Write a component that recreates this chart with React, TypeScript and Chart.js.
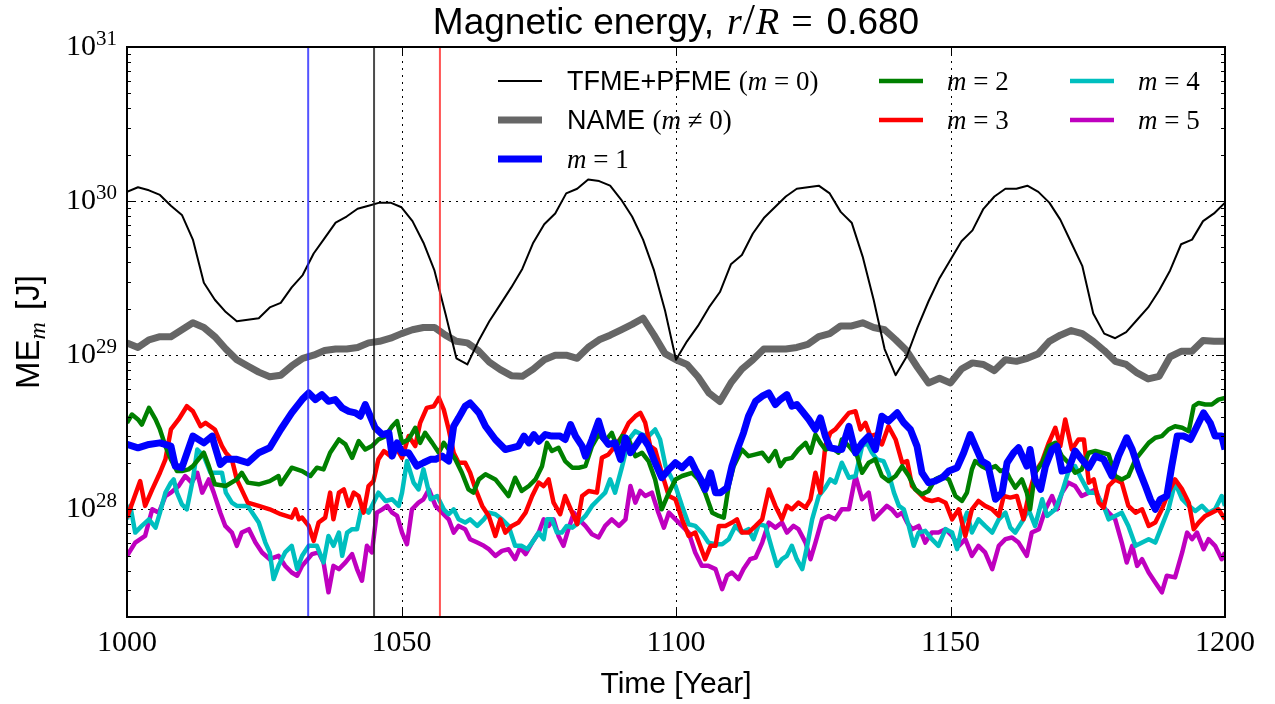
import React, { useEffect, useRef } from "react";
import { Chart, registerables } from "chart.js";

Chart.register(...registerables);

// ---------------- data (log10 of energy in J) ----------------
const years = [
  1000, 1002, 1004, 1006, 1008, 1010, 1012, 1014, 1016, 1018,
  1020, 1022, 1024, 1026, 1028, 1030, 1032, 1034, 1036, 1038,
  1040, 1042, 1044, 1046, 1048, 1050, 1052, 1054, 1056, 1058,
  1060, 1062, 1064, 1066, 1068, 1070, 1072, 1074, 1076, 1078,
  1080, 1082, 1084, 1086, 1088, 1090, 1092, 1094, 1096, 1098,
  1100, 1102, 1104, 1106, 1108, 1110, 1112, 1114, 1116, 1118,
  1120, 1122, 1124, 1126, 1128, 1130, 1132, 1134, 1136, 1138,
  1140, 1142, 1144, 1146, 1148, 1150, 1152, 1154, 1156, 1158,
  1160, 1162, 1164, 1166, 1168, 1170, 1172, 1174, 1176, 1178,
  1180, 1182, 1184, 1186, 1188, 1190, 1192, 1194, 1196, 1198,
  1200,
];

const tfmeLog = [
  30.06, 30.09, 30.07, 30.04, 29.97, 29.91, 29.75, 29.47, 29.36, 29.28,
  29.22, 29.23, 29.24, 29.31, 29.34, 29.44, 29.52, 29.66, 29.76, 29.86,
  29.9, 29.95, 29.97, 29.99, 29.99, 29.96, 29.87, 29.73, 29.55, 29.27,
  28.98, 28.94, 29.09, 29.22, 29.33, 29.44, 29.56, 29.73, 29.85, 29.92,
  30.05, 30.08, 30.14, 30.13, 30.1, 30.01, 29.9, 29.75, 29.55, 29.29,
  28.97, 29.09, 29.19, 29.31, 29.41, 29.59, 29.65, 29.79, 29.89, 29.96,
  30.03, 30.08, 30.09, 30.1, 30.05, 29.93, 29.86, 29.64, 29.36, 29.04,
  28.87, 28.99, 29.18, 29.35, 29.5, 29.62, 29.74, 29.81, 29.95, 30.03,
  30.08, 30.08, 30.1, 30.06, 29.99, 29.88, 29.73, 29.58, 29.27, 29.14,
  29.11, 29.15, 29.23, 29.31, 29.42, 29.55, 29.72, 29.75, 29.87, 29.92,
  29.99,
];

const nameLog = [
  29.08, 29.05, 29.1, 29.12, 29.12, 29.165, 29.21, 29.18, 29.12, 29.04,
  28.97, 28.93, 28.89, 28.86, 28.87, 28.93, 28.98, 29.0, 29.03, 29.04,
  29.04, 29.05, 29.08, 29.09, 29.11, 29.14, 29.165, 29.18, 29.18, 29.13,
  29.09, 29.08, 29.03, 28.955, 28.906, 28.867, 28.863, 28.91, 28.97, 29.0,
  29.0, 28.98, 29.05, 29.1, 29.13, 29.165, 29.2, 29.24, 29.13, 29.01,
  28.97, 28.94, 28.86, 28.755, 28.7, 28.82, 28.91, 28.97, 29.04, 29.04,
  29.04, 29.05, 29.07, 29.12, 29.14, 29.19, 29.19, 29.21, 29.18, 29.165,
  29.1, 29.03, 28.92, 28.82, 28.85, 28.82, 28.91, 28.95, 28.94, 28.9,
  28.97, 28.96, 28.98, 29.01, 29.09, 29.13, 29.16, 29.14, 29.09, 29.03,
  28.96, 28.94, 28.885, 28.846, 28.863, 28.99, 29.025, 29.025, 29.096, 29.09,
  29.09,
];

const m1Years = [
  1000, 1002, 1004, 1006, 1008, 1008.8, 1010, 1012, 1014, 1015.5, 1016, 1017, 1018, 1020, 1022, 1024, 1026, 1028, 1030,
  1031.9, 1033.1, 1034.3, 1035.5, 1036.7, 1037.9, 1039.2, 1040.4, 1041.6, 1042.5, 1043.4, 1044.3, 1045.2, 1046.5, 1047.7,
  1048.3, 1049.2, 1050.1, 1051.3, 1052.8, 1054, 1055.3, 1056.2, 1057.4, 1058.6, 1059.5, 1060.4, 1061.6, 1062.5, 1064.1, 1065.3,
  1067.1, 1068.9, 1070.1, 1071.3, 1072.3, 1073.2, 1074.1, 1075, 1076.2, 1077.4, 1078.9, 1079.8, 1080.8, 1081.7, 1082.9,
  1083.5, 1084.7, 1085.9, 1086.8, 1087.7, 1088.9, 1089.9, 1090.8, 1091.7, 1092.6, 1093.8, 1095, 1096.2, 1097.4,
  1098.7, 1099.9, 1101.1, 1102.6, 1103.5, 1104.7, 1105.3, 1106.3, 1107.2, 1108.1, 1109.3, 1110.2, 1111.4, 1112.3, 1113.2,
  1114.5, 1115.7, 1116.9, 1118.1, 1119, 1120.2, 1121.1, 1122, 1123, 1124.2, 1125.4, 1126.3, 1127.2, 1128.1, 1129.6,
  1130.2, 1131.5, 1132.7, 1133.9, 1135.1, 1136.3, 1137.5, 1138.7, 1140.3, 1141.5, 1142.7, 1143.9, 1144.8, 1146, 1147.2,
  1148.5, 1149.7, 1151.2, 1152.4, 1153.6, 1154.5, 1155.7, 1156.8, 1158.2, 1159.4, 1160.3, 1161.5, 1162.4,
  1163.9, 1164.5, 1165.4, 1166.4, 1167.3, 1168.5, 1169.4, 1170.3, 1171.5, 1172.7, 1173.9, 1175.2, 1176.4, 1177.9, 1179.4,
  1180.6, 1182.1, 1183.1, 1184.3, 1185.5, 1186.4, 1187.3, 1188.2, 1189.4, 1190.3, 1191.3, 1192.5, 1193.7, 1194.9, 1196.1,
  1197.3, 1198.2, 1199.4, 1200,
];
const m1Log = [
  28.421, 28.399, 28.421, 28.431, 28.41, 28.28, 28.27, 28.475, 28.431, 28.475, 28.41, 28.291, 28.324, 28.324, 28.302, 28.367, 28.399, 28.518, 28.626,
  28.712, 28.755, 28.712, 28.744, 28.701, 28.712, 28.658, 28.636, 28.626, 28.604, 28.68, 28.604, 28.529, 28.485, 28.496,
  28.345, 28.431, 28.367, 28.367, 28.28, 28.302, 28.324, 28.324, 28.345, 28.313, 28.539, 28.593, 28.669, 28.69, 28.626, 28.539,
  28.453, 28.388, 28.399, 28.41, 28.475, 28.431, 28.485, 28.442, 28.485, 28.475, 28.475, 28.453, 28.55, 28.475, 28.41,
  28.345, 28.453, 28.572, 28.464, 28.421, 28.431, 28.324, 28.464, 28.367, 28.41, 28.475, 28.41, 28.302, 28.205,
  28.259, 28.302, 28.27, 28.324, 28.259, 28.183, 28.129, 28.237, 28.108, 28.108, 28.14, 28.28, 28.41, 28.496, 28.604,
  28.701, 28.734, 28.755, 28.68, 28.712, 28.744, 28.669, 28.68, 28.636, 28.583, 28.518, 28.593, 28.475, 28.399, 28.388,
  28.388, 28.539, 28.367, 28.431, 28.475, 28.388, 28.604, 28.572, 28.626, 28.561, 28.518, 28.41, 28.237, 28.173, 28.183,
  28.205, 28.248, 28.27, 28.367, 28.485, 28.41, 28.313, 28.291, 28.065, 28.108, 28.302, 28.367, 28.399,
  28.28, 28.388, 28.194, 28.129, 28.28, 28.388, 28.41, 28.248, 28.259, 28.378, 28.324, 28.27, 28.345, 28.324, 28.216,
  28.345, 28.464, 28.388, 28.259, 28.151, 28.065, 28.0, 28.065, 28.086, 28.28, 28.475, 28.475, 28.453, 28.539, 28.626,
  28.561, 28.475, 28.475, 28.388,
];

const m2Years = [
  1000, 1000.9, 1002, 1002.7, 1004, 1005.2, 1006, 1007, 1008, 1009.1, 1010, 1011.2, 1012, 1014, 1014.9, 1016, 1018, 1020,
  1020.9, 1022, 1024, 1026, 1027.6, 1028, 1030, 1031.9, 1033.4, 1034.6, 1035.8, 1037, 1038.6, 1039.8, 1041, 1042.2, 1043.4,
  1044.6, 1045.8, 1047.1, 1048.3, 1049.2, 1050.1, 1051.3, 1052.5, 1053.4, 1054.3, 1055.6, 1056.8, 1057.7, 1058.6, 1059.8,
  1061, 1062.2, 1063.1, 1064.1, 1065.3, 1067.1, 1068.3, 1069.5, 1070.7, 1071.9, 1073.2, 1074.4, 1075.6, 1076.5, 1077.4,
  1078.6, 1079.8, 1081.1, 1082.3, 1083.5, 1084.7, 1085.9, 1087.1, 1088.3, 1089.2, 1090.2, 1091.4, 1092.6, 1093.8, 1095,
  1096.2, 1097.4, 1098.7, 1099.9, 1101.1, 1102.9, 1104.1, 1105.3, 1106.6, 1107.8, 1108.7, 1109.6, 1110.5, 1112, 1113.2,
  1114.5, 1115.7, 1116.9, 1118.1, 1119, 1119.9, 1121.1, 1122.3, 1123.6, 1124.5, 1125.4, 1126.3, 1127.2, 1128.4, 1129.6,
  1130.2, 1131.5, 1133, 1133.9, 1135.1, 1136.3, 1137.5, 1138.7, 1140, 1141.2, 1142.4, 1143.6, 1144.8, 1146, 1147.2,
  1148.5, 1149.7, 1150.9, 1152.1, 1153, 1153.9, 1154.5, 1155.7, 1156.8, 1158.2, 1159.1, 1160, 1160.9, 1161.8, 1163,
  1163.9, 1164.5, 1165.4, 1166.7, 1167.9, 1169.1, 1170.3, 1171.5, 1172.7, 1173.9, 1175.2, 1176.4, 1177.6, 1178.8, 1180,
  1181.2, 1182.4, 1183.7, 1184.9, 1186.1, 1187.3, 1188.5, 1189.7, 1190.9, 1192.2, 1193.4, 1194.3, 1195.2, 1196.4, 1197.6,
  1198.8, 1200,
];
const m2Log = [
  28.561, 28.615, 28.583, 28.55, 28.658, 28.583, 28.518, 28.41, 28.324, 28.248, 28.248, 28.259, 28.28, 28.367, 28.28, 28.162, 28.151, 28.194,
  28.237, 28.173, 28.162, 28.183, 28.216, 28.162, 28.27, 28.248, 28.216, 28.27, 28.259, 28.367, 28.453, 28.421, 28.334, 28.442, 28.388,
  28.41, 28.453, 28.475, 28.539, 28.572, 28.431, 28.453, 28.529, 28.431, 28.496, 28.431, 28.367, 28.431, 28.388, 28.324,
  28.237, 28.129, 28.108, 28.194, 28.227, 28.194, 28.14, 28.086, 28.205, 28.119, 28.151, 28.194, 28.28, 28.431, 28.378,
  28.399, 28.313, 28.27, 28.27, 28.28, 28.41, 28.485, 28.442, 28.496, 28.41, 28.475, 28.453, 28.345, 28.367, 28.313,
  28.194, 28.0, 28.108, 28.194, 28.216, 28.237, 28.194, 28.108, 27.978, 27.957, 27.946, 28.151, 28.28, 28.388, 28.345,
  28.356, 28.367, 28.313, 28.378, 28.28, 28.324, 28.334, 28.388, 28.431, 28.367, 28.485, 28.431, 28.388, 28.399, 28.367,
  28.453, 28.41, 28.345, 28.237, 28.302, 28.324, 28.216, 28.183, 28.216, 28.28, 28.216, 28.129, 28.097, 28.119, 28.194,
  28.216, 28.194, 28.086, 28.054, 28.108, 28.259, 28.313, 28.28, 28.259, 28.28, 28.248, 28.259, 28.194, 28.14, 28.194,
  28.108, 28.0, 28.237, 28.302, 28.41, 28.431, 28.345, 28.302, 28.237, 28.259, 28.367, 28.378, 28.367, 28.356, 28.216,
  28.194, 28.216, 28.324, 28.378, 28.431, 28.464, 28.475, 28.518, 28.539, 28.529, 28.507, 28.669, 28.69, 28.68, 28.68,
  28.712, 28.723,
];

const m3Years = [
  1000, 1001.2, 1002.4, 1003.3, 1004.6, 1006, 1007, 1008, 1009.4, 1010.9, 1012, 1013.4, 1014.3, 1016, 1017.3, 1018, 1019.1,
  1020, 1022, 1024, 1026, 1028, 1030, 1030.7, 1031.3, 1031.9, 1033.1, 1034, 1034.9, 1036.1, 1037, 1037.6, 1038.6, 1039.5,
  1040.4, 1041.3, 1042.2, 1043.1, 1044, 1044.9, 1045.8, 1046.8, 1048, 1048.9, 1050.1, 1051.3, 1052.5, 1053.4, 1054.6,
  1055.9, 1056.8, 1057.7, 1058.6, 1059.5, 1060.4, 1061.6, 1062.5, 1063.5, 1064.7, 1065.9, 1067.1, 1068, 1068.9, 1070.1,
  1071.3, 1072.6, 1073.8, 1075, 1075.9, 1076.8, 1077.7, 1078.9, 1079.8, 1081.1, 1082, 1082.9, 1084.1, 1085.6, 1086.5,
  1087.7, 1088.9, 1090.2, 1091.4, 1092.6, 1093.5, 1094.4, 1095.3, 1096.2, 1097.4, 1098.7, 1099.9, 1101.1, 1102.3, 1103.5,
  1104.4, 1105.3, 1106.3, 1107.2, 1107.8, 1109, 1110.2, 1111.1, 1112, 1113.2, 1114.5, 1115.7, 1116.9, 1118.1, 1119.3,
  1120.2, 1121.1, 1122.3, 1123.6, 1124.5, 1125.4, 1126.3, 1127.2, 1128.1, 1129, 1130.5, 1131.5, 1132.7, 1133.6, 1134.5,
  1135.4, 1136.3, 1137.5, 1138.7, 1140, 1141.2, 1142.1, 1143, 1144.2, 1145.4, 1146.6, 1147.8, 1149.1, 1150.3, 1151.5,
  1152.7, 1153.9, 1155.1, 1156.3, 1157.6, 1158.8, 1159.7, 1160.9, 1162.1, 1163.3, 1164.2, 1165.4, 1166.7, 1167.9, 1169.1,
  1170, 1170.9, 1172.1, 1173.3, 1174.3, 1175.2, 1176.1, 1177, 1177.9, 1178.8, 1180, 1181.2, 1182.4, 1183.7, 1184.9,
  1186.1, 1187.3, 1188.5, 1189.7, 1190.9, 1192.2, 1193.4, 1194.3, 1195.2, 1196.4, 1197.6, 1198.8, 1200,
];
const m3Log = [
  27.946, 28.065, 28.183, 28.022, 28.129, 28.237, 28.324, 28.518, 28.583, 28.669, 28.636, 28.539, 28.561, 28.518, 28.41, 28.367, 28.324,
  28.194, 28.043, 28.022, 28.0, 27.968, 27.946, 28.0, 27.935, 27.946, 27.892, 27.795, 27.914, 27.946, 28.108, 27.935, 28.108, 28.129,
  28.022, 28.108, 28.086, 27.978, 28.151, 28.183, 28.324, 28.378, 28.345, 28.41, 28.334, 28.475, 28.41, 28.561, 28.658,
  28.669, 28.723, 28.647, 28.518, 28.367, 28.302, 28.302, 28.237, 28.129, 28.022, 27.957, 27.827, 27.935, 27.849, 27.892,
  27.914, 27.978, 28.086, 28.173, 28.151, 28.194, 28.043, 27.968, 28.086, 27.978, 27.903, 28.086, 28.119, 28.108, 28.334,
  28.356, 28.41, 28.475, 28.561, 28.604, 28.626, 28.561, 28.41, 28.388, 28.237, 28.086, 28.065, 27.935, 27.827, 27.849,
  27.763, 27.676, 27.763, 27.763, 27.892, 27.892, 27.914, 27.935, 27.849, 27.849, 27.892, 27.935, 28.129, 28.022, 27.935,
  28.022, 28.0, 28.043, 28.011, 28.065, 28.237, 28.108, 28.41, 28.496, 28.518, 28.583, 28.626, 28.636, 28.518, 28.561,
  28.475, 28.485, 28.421, 28.539, 28.453, 28.302, 28.313, 28.151, 28.108, 28.065, 28.054, 28.065, 28.043, 27.935, 28.0,
  27.827, 28.0, 28.054, 28.022, 28.0, 27.957, 28.086, 28.076, 28.086, 27.935, 28.086, 28.237, 28.313, 28.431, 28.529,
  28.41, 28.583, 28.388, 28.453, 28.453, 28.173, 28.194, 28.043, 28.011, 28.151, 28.194, 28.173, 28.022, 27.978, 28.0,
  27.892, 27.914, 28.0, 28.108, 28.194, 28.129, 28.043, 27.871, 27.914, 27.957, 27.978, 28.0, 27.935,
];

const m4Years = [
  1000, 1000.6, 1001.5, 1002.7, 1004, 1005.2, 1006, 1007, 1008, 1008.5, 1009.1, 1010, 1010.9, 1012, 1012.8, 1014, 1015.2,
  1016, 1017.3, 1018, 1019.1, 1020, 1022, 1024, 1025.2, 1026, 1026.7, 1027.6, 1028.8, 1030, 1031, 1031.9, 1033.1, 1034.6,
  1035.8, 1036.7, 1037.6, 1038.6, 1039.2, 1040.1, 1041, 1041.9, 1042.8, 1044, 1044.9, 1045.8, 1047.1, 1048.3, 1049.5,
  1050.1, 1051, 1052.2, 1053.1, 1054, 1055.3, 1056.5, 1057.7, 1058.6, 1059.5, 1060.4, 1061.6, 1062.5, 1063.8, 1065,
  1065.9, 1067.1, 1068.3, 1069.5, 1070.7, 1071.9, 1072.9, 1073.8, 1075, 1075.9, 1076.5, 1077.4, 1078.3, 1079.2, 1080.1,
  1081.1, 1082.3, 1083.5, 1084.7, 1085.9, 1087.1, 1088, 1088.9, 1090.2, 1091.4, 1092.6, 1093.8, 1095, 1096.2, 1097.1,
  1098.1, 1098.7, 1099.9, 1101.1, 1102.3, 1103.5, 1104.7, 1105.9, 1107.2, 1108.4, 1109.6, 1110.8, 1112, 1113.2, 1114.1,
  1115.1, 1116.3, 1117.5, 1118.4, 1119.3, 1120.2, 1121.1, 1122, 1123, 1123.9, 1124.8, 1126, 1127.2, 1128.1, 1129, 1130.2,
  1131.5, 1132.7, 1133.9, 1134.8, 1135.7, 1136.6, 1137.8, 1138.7, 1139.7, 1140.6, 1141.5, 1142.4, 1143.3, 1144.2, 1145.4,
  1146.6, 1147.8, 1149.1, 1150.3, 1151.2, 1152.1, 1153, 1153.9, 1155.1, 1156.3, 1157.6, 1158.8, 1160, 1160.9, 1161.8,
  1163.3, 1164.2, 1165.4, 1166.7, 1167.6, 1169.1, 1170.3, 1171.5, 1172.7, 1173.9, 1175.2, 1176.4, 1177.9, 1178.8, 1180,
  1181.2, 1182.4, 1183.7, 1184.9, 1186.1, 1187.3, 1188.5, 1189.7, 1190.9, 1192.2, 1193.4, 1194.6, 1195.8, 1197, 1198.2,
  1199.4, 1200,
];
const m4Log = [
  27.935, 28.022, 27.849, 27.892, 27.935, 27.881, 27.978, 28.108, 28.173, 28.194, 28.108, 28.032, 28.0, 28.194, 28.388, 28.345, 28.237,
  28.237, 28.237, 28.108, 28.043, 28.022, 28.022, 27.914, 27.784, 27.72, 27.547, 27.633, 27.72, 27.763, 27.612, 27.698, 27.763, 27.763,
  27.655, 27.827, 27.763, 27.849, 27.698, 27.849, 27.871, 27.871, 28.022, 27.978, 28.043, 28.108, 28.054, 28.065, 28.022,
  28.108, 28.313, 28.173, 28.129, 28.259, 28.065, 28.086, 28.0, 27.968, 28.0, 27.935, 27.914, 27.935, 27.892, 27.935,
  27.978, 27.968, 27.935, 27.892, 27.763, 27.763, 27.741, 27.784, 27.849, 27.806, 27.935, 27.935, 27.849, 27.849, 27.892,
  27.881, 27.914, 27.957, 28.022, 28.065, 28.108, 28.194, 28.108, 28.28, 28.453, 28.507, 28.485, 28.475, 28.518, 28.453,
  28.28, 28.237, 28.151, 28.022, 27.903, 27.892, 27.849, 27.784, 27.773, 27.773, 27.806, 27.892, 27.849, 27.871, 27.806,
  27.903, 27.892, 27.741, 27.633, 27.676, 27.698, 27.763, 27.676, 27.612, 27.763, 27.935, 28.086, 28.14, 28.194, 28.173, 28.302,
  28.205, 28.216, 28.41, 28.431, 28.367, 28.324, 28.313, 28.237, 28.108, 28.022, 28.0, 27.892, 27.763, 27.849, 27.86,
  27.806, 27.763, 27.871, 27.849, 27.741, 27.892, 27.978, 27.849, 27.935, 27.892, 27.849, 27.935, 27.978, 27.881, 27.849,
  27.935, 28.0, 27.892, 28.065, 27.957, 28.0, 28.108, 28.248, 28.28, 28.194, 28.108, 28.108, 28.022, 27.935, 27.957,
  27.978, 27.892, 27.763, 27.784, 27.806, 27.784, 27.892, 28.0, 28.173, 28.065, 28.022, 27.989, 28.022, 27.978, 28.0,
  28.086, 28.022,
];

const m5Years = [
  1000, 1001.5, 1003.3, 1004.6, 1005.8, 1007, 1008, 1009.4, 1010.6, 1011.8, 1012.8, 1013.7, 1014.9, 1015.8, 1017, 1017.9,
  1019.1, 1020, 1020.9, 1022.2, 1023.4, 1024.6, 1026, 1027.6, 1028.8, 1030, 1031, 1031.9, 1033.7, 1034.9, 1035.8, 1036.7,
  1037.6, 1038.6, 1039.8, 1041, 1041.9, 1042.8, 1043.7, 1044.6, 1045.5, 1046.5, 1047.4, 1048.3, 1049.2, 1050.1, 1051,
  1051.9, 1053.1, 1054, 1055, 1056.2, 1057.4, 1058.6, 1059.5, 1060.4, 1061.6, 1062.5, 1063.8, 1065, 1065.9, 1067.1, 1068.3,
  1069.5, 1070.7, 1071.6, 1072.6, 1073.8, 1075, 1075.9, 1076.8, 1077.7, 1078.6, 1079.5, 1080.4, 1081.4, 1082.3, 1083.5,
  1084.7, 1085.9, 1087.1, 1088.3, 1089.6, 1090.8, 1091.7, 1092.6, 1093.5, 1094.4, 1095.6, 1096.8, 1097.8, 1098.7, 1099.9,
  1101.1, 1102.3, 1103.5, 1104.7, 1105.9, 1107.2, 1108.4, 1109.3, 1110.2, 1111.4, 1112.3, 1113.5, 1114.5, 1115.7, 1116.9,
  1118.1, 1119.3, 1120.2, 1121.4, 1122.3, 1123.6, 1124.5, 1125.4, 1126.6, 1127.8, 1129, 1130.2, 1131.5, 1132.7, 1133.9,
  1135.1, 1136, 1137.2, 1138.4, 1139.3, 1140.3, 1141.2, 1142.1, 1143, 1144.2, 1145.4, 1146.6, 1147.8, 1149.1, 1150.3,
  1151.5, 1152.7, 1153.9, 1155.1, 1156.3, 1157.6, 1158.8, 1160, 1161.2, 1162.4, 1163.9, 1164.8, 1166.1, 1167.3, 1168.5,
  1169.4, 1170.3, 1171.5, 1172.7, 1173.9, 1175.2, 1176.4, 1177.6, 1178.8, 1180, 1181.2, 1182.1, 1183.1, 1184, 1184.9,
  1186.1, 1187.3, 1188.5, 1189.4, 1190.9, 1192.2, 1193.1, 1194, 1194.9, 1196.1, 1197, 1198.2, 1199.4, 1200,
];
const m5Log = [
  27.698, 27.784, 27.827, 28.0, 27.978, 28.086, 28.108, 28.151, 28.216, 28.173, 28.237, 28.108, 28.194, 28.108, 27.978, 27.892,
  27.849, 27.763, 27.849, 27.871, 27.784, 27.72, 27.676, 27.698, 27.633, 27.59, 27.569, 27.633, 27.709, 27.72, 27.655, 27.461,
  27.633, 27.612, 27.655, 27.709, 27.612, 27.536, 27.763, 27.72, 27.978, 28.0, 28.022, 27.978, 27.957, 27.849, 27.773,
  28.0, 28.043, 28.065, 28.129, 28.022, 27.978, 27.935, 27.849, 27.892, 27.871, 27.806, 27.784, 27.763, 27.741, 27.698, 27.73,
  27.741, 27.676, 27.752, 27.709, 27.784, 27.849, 27.935, 27.892, 27.935, 27.827, 27.763, 27.871, 27.978, 27.935, 27.892,
  27.838, 27.817, 27.892, 27.935, 27.892, 27.935, 28.151, 28.043, 28.119, 28.086, 28.108, 27.978, 27.881, 27.978, 27.935,
  27.892, 27.849, 27.72, 27.633, 27.633, 27.612, 27.482, 27.569, 27.59, 27.547, 27.612, 27.676, 27.687, 27.784, 27.914,
  27.881, 27.914, 27.849, 27.892, 27.871, 27.784, 27.676, 27.784, 27.935, 27.957, 27.935, 28.0, 28.0, 28.216, 28.065,
  28.108, 27.935, 27.978, 28.022, 28.0, 27.957, 27.978, 27.914, 27.871, 27.892, 27.784, 27.849, 27.849, 27.871, 27.827,
  27.763, 27.806, 27.698, 27.763, 27.72, 27.612, 27.763, 27.806, 27.817, 27.784, 27.698, 27.849, 27.871, 28.0, 28.086,
  28.0, 28.108, 28.173, 28.151, 28.086, 28.108, 28.129, 28.022, 27.978, 27.935, 27.784, 27.655, 27.763, 27.633, 27.676,
  27.59, 27.525, 27.461, 27.569, 27.558, 27.72, 27.849, 27.806, 27.849, 27.741, 27.806, 27.763, 27.676, 27.72,
];

// vertical marker lines (years)
const markerYears = [1033, 1045, 1057];
const markerColors = ["rgba(40,40,255,0.8)", "rgba(30,30,30,0.8)", "rgba(255,40,40,0.8)"];

// axes
const xMin = 1000;
const xMax = 1200;
const yMin = 2e27;
const yMax = 1e31;
const xTickValues = [1000, 1050, 1100, 1150, 1200];
const yTickValues = [1e28, 1e29, 1e30, 1e31];
const minorMultipliers = [2, 3, 4, 5, 6, 7, 8, 9];

// ---------------- styling ----------------
const SANS = "'Liberation Sans', Arial, 'DejaVu Sans', sans-serif";
const SERIF = "'Liberation Serif', 'DejaVu Serif', serif";

type Run = { t: string; f: string; dy?: number; after?: number };

const mathM = (rest: string, size = 27): Run[] => [
  { t: "m", f: `italic ${size}px ${SERIF}` },
  { t: rest, f: `${size}px ${SERIF}` },
];

const seriesDefs = [
  {
    xs: years, values: tfmeLog, color: "#000000", width: 2, label: "TFME+PFME (m = 0)",
    runs: [{ t: "TFME+PFME ", f: `27px ${SANS}` }, { t: "(", f: `27px ${SERIF}` }, ...mathM(" = 0)")] as Run[],
  },
  {
    xs: years, values: nameLog, color: "#666666", width: 7, label: "NAME (m ≠ 0)",
    runs: [{ t: "NAME ", f: `27px ${SANS}` }, { t: "(", f: `27px ${SERIF}` }, ...mathM(" ≠ 0)")] as Run[],
  },
  { xs: m1Years, values: m1Log, color: "#0000ff", width: 7, label: "m = 1", runs: mathM(" = 1") },
  { xs: m2Years, values: m2Log, color: "#008000", width: 4.5, label: "m = 2", runs: mathM(" = 2") },
  { xs: m3Years, values: m3Log, color: "#ff0000", width: 4.5, label: "m = 3", runs: mathM(" = 3") },
  { xs: m4Years, values: m4Log, color: "#00bfbf", width: 4.5, label: "m = 4", runs: mathM(" = 4") },
  { xs: m5Years, values: m5Log, color: "#bf00bf", width: 4.5, label: "m = 5", runs: mathM(" = 5") },
];

// legend layout: [column, row] for each series
const legendSlots = [[0, 0], [0, 1], [0, 2], [1, 0], [1, 1], [2, 0], [2, 1]];
const legendLineX = [498, 879, 1070];
const legendTextX = [567, 947, 1138];
const legendRowY = [81, 120, 159];
const legendLineLen = 44;

function runsWidth(ctx: CanvasRenderingContext2D, runs: Run[]) {
  let w = 0;
  for (const r of runs) {
    ctx.font = r.f;
    w += ctx.measureText(r.t).width + (r.after || 0);
  }
  return w;
}

function drawRuns(ctx: CanvasRenderingContext2D, runs: Run[], x: number, y: number, align: "left" | "center" | "right") {
  const w = runsWidth(ctx, runs);
  let cx = align === "left" ? x : align === "center" ? x - w / 2 : x - w;
  ctx.textAlign = "left";
  ctx.textBaseline = "alphabetic";
  for (const r of runs) {
    ctx.font = r.f;
    ctx.fillText(r.t, cx, y + (r.dy || 0));
    cx += ctx.measureText(r.t).width + (r.after || 0);
  }
}

const mplPlugin = {
  id: "mplDecor",
  beforeDatasetsDraw(chart: any) {
    const { ctx, chartArea: a, scales } = chart;
    const xs = scales.x;
    const ys = scales.y;
    ctx.save();
    ctx.strokeStyle = "#000";
    ctx.lineWidth = 1;
    ctx.setLineDash([2, 5]);
    ctx.beginPath();
    for (const v of xTickValues) {
      const px = Math.round(xs.getPixelForValue(v)) + 0.5;
      if (px > a.left + 2 && px < a.right - 2) {
        ctx.moveTo(px, a.top);
        ctx.lineTo(px, a.bottom);
      }
    }
    for (const v of yTickValues) {
      const py = Math.round(ys.getPixelForValue(v)) + 0.5;
      if (py > a.top + 2 && py < a.bottom - 2) {
        ctx.moveTo(a.left, py);
        ctx.lineTo(a.right, py);
      }
    }
    ctx.stroke();
    ctx.restore();
  },
  afterDatasetsDraw(chart: any) {
    const { ctx, chartArea: a, scales } = chart;
    const xs = scales.x;
    const ys = scales.y;
    ctx.save();
    ctx.fillStyle = "#000";
    ctx.strokeStyle = "#000";

    // ticks
    ctx.lineWidth = 1;
    ctx.beginPath();
    const lo = Math.floor(Math.log10(yMin));
    const hi = Math.ceil(Math.log10(yMax));
    for (let d = lo; d < hi; d++) {
      for (const k of minorMultipliers) {
        const v = k * Math.pow(10, d);
        if (v < yMin || v > yMax) continue;
        const py = Math.round(ys.getPixelForValue(v)) + 0.5;
        ctx.moveTo(a.left, py);
        ctx.lineTo(a.left + 4, py);
        ctx.moveTo(a.right, py);
        ctx.lineTo(a.right - 4, py);
      }
    }
    for (const v of yTickValues) {
      const py = Math.round(ys.getPixelForValue(v)) + 0.5;
      ctx.moveTo(a.left, py);
      ctx.lineTo(a.left + 9, py);
      ctx.moveTo(a.right, py);
      ctx.lineTo(a.right - 9, py);
    }
    for (const v of xTickValues) {
      const px = Math.round(xs.getPixelForValue(v)) + 0.5;
      ctx.moveTo(px, a.bottom);
      ctx.lineTo(px, a.bottom - 9);
      ctx.moveTo(px, a.top);
      ctx.lineTo(px, a.top + 9);
    }
    ctx.stroke();

    // frame
    ctx.lineWidth = 2;
    ctx.strokeRect(a.left, a.top, a.right - a.left, a.bottom - a.top);

    // y tick labels 10^n
    for (const v of yTickValues) {
      const py = ys.getPixelForValue(v);
      const exp = String(Math.round(Math.log10(v)));
      ctx.font = `21px ${SERIF}`;
      const supW = ctx.measureText(exp).width;
      const supX = a.left - 10 - supW;
      ctx.textAlign = "left";
      ctx.textBaseline = "alphabetic";
      ctx.fillText(exp, supX, py - 2);
      ctx.font = `30px ${SERIF}`;
      ctx.textAlign = "right";
      ctx.fillText("10", supX, py + 8);
    }

    // x tick labels
    ctx.font = `30px ${SERIF}`;
    ctx.textAlign = "center";
    ctx.textBaseline = "alphabetic";
    for (const v of xTickValues) {
      ctx.fillText(String(v), xs.getPixelForValue(v), a.bottom + 34);
    }

    // axis labels
    const cx = (a.left + a.right) / 2;
    const cy = (a.top + a.bottom) / 2;
    drawRuns(ctx, [{ t: "Time [Year]", f: `30px ${SANS}` }], cx, 693, "center");
    ctx.save();
    ctx.translate(39, cy);
    ctx.rotate(-Math.PI / 2);
    drawRuns(
      ctx,
      [
        { t: "ME", f: `33px ${SANS}` },
        { t: "m", f: `italic 24px ${SERIF}`, dy: 6, after: 3 },
        { t: " [J]", f: `33px ${SANS}` },
      ],
      0, 0, "center"
    );
    ctx.restore();

    // title
    drawRuns(
      ctx,
      [
        { t: "Magnetic energy,", f: `37px ${SANS}`, after: 13 },
        { t: "r", f: `italic 38px ${SERIF}`, after: 1 },
        { t: "/", f: `44px ${SERIF}`, after: 1 },
        { t: "R", f: `italic 38px ${SERIF}`, after: 12 },
        { t: "=", f: `38px ${SERIF}`, after: 14 },
        { t: "0.680", f: `37px ${SANS}` },
      ],
      cx, 34, "center"
    );

    // legend
    const ds = chart.data.datasets;
    legendSlots.forEach(([col, row], i) => {
      const d = ds[i];
      const y = legendRowY[row];
      ctx.strokeStyle = d.borderColor;
      ctx.lineWidth = d.borderWidth;
      ctx.lineCap = "butt";
      ctx.beginPath();
      ctx.moveTo(legendLineX[col], y);
      ctx.lineTo(legendLineX[col] + legendLineLen, y);
      ctx.stroke();
      ctx.fillStyle = "#000";
      drawRuns(ctx, seriesDefs[i].runs, legendTextX[col], y + 9, "left");
    });

    ctx.restore();
  },
};

export default function App() {
  const ref = useRef<HTMLCanvasElement>(null);
  useEffect(() => {
    if (!ref.current) return;
    const datasets: any[] = seriesDefs.map((s) => ({
      label: s.label,
      data: s.xs.map((x, i) => ({ x, y: Math.pow(10, s.values[i]) })),
      borderColor: s.color,
      backgroundColor: s.color,
      borderWidth: s.width,
      pointRadius: 0,
      tension: 0,
      fill: false,
      borderJoinStyle: "round",
      clip: 0,
    }));
    markerYears.forEach((yr, i) => {
      datasets.push({
        label: `marker ${yr}`,
        data: [{ x: yr, y: yMin }, { x: yr, y: yMax }],
        borderColor: markerColors[i],
        borderWidth: 2,
        pointRadius: 0,
        fill: false,
        order: -1,
        clip: 0,
      });
    });
    const chart = new Chart(ref.current, {
      type: "line",
      data: { datasets },
      options: {
        animation: false,
        responsive: false,
        events: [],
        layout: { padding: { top: 47, right: 50, left: 0, bottom: 0 } },
        plugins: {
          legend: { display: false },
          title: { display: false },
          tooltip: { enabled: false },
        },
        scales: {
          x: {
            type: "linear",
            min: xMin,
            max: xMax,
            afterBuildTicks: (s: any) => {
              s.ticks = xTickValues.map((value) => ({ value }));
            },
            afterFit: (s: any) => {
              s.height = 87;
            },
            ticks: { display: false },
            grid: { display: false, drawTicks: false },
            border: { display: false },
          },
          y: {
            type: "logarithmic",
            min: yMin,
            max: yMax,
            afterBuildTicks: (s: any) => {
              s.ticks = yTickValues.map((value) => ({ value }));
            },
            afterFit: (s: any) => {
              s.width = 127;
            },
            ticks: { display: false },
            grid: { display: false, drawTicks: false },
            border: { display: false },
          },
        },
      } as any,
      plugins: [mplPlugin],
    });
    return () => chart.destroy();
  }, []);
  return (
    <div style={{ position: "absolute", left: 0, top: 0, width: 1275, height: 704, background: "#fff" }}>
      <canvas ref={ref} width={1275} height={704} style={{ display: "block" }} />
    </div>
  );
}
